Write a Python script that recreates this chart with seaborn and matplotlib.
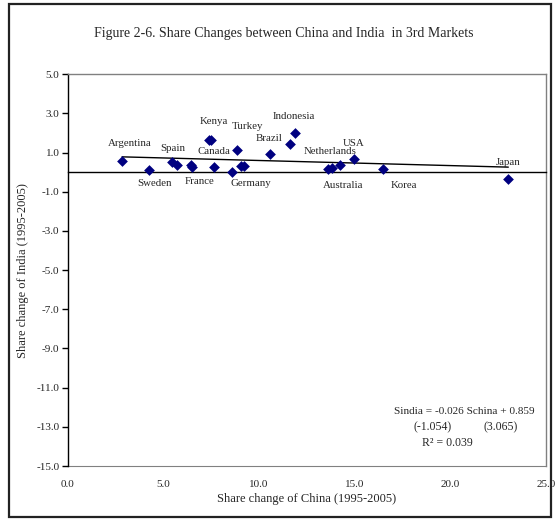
import matplotlib
matplotlib.use("Agg")
import matplotlib.pyplot as plt
from matplotlib.patches import Rectangle
import numpy as np
import pandas as pd
import seaborn as sns

# Share change 1995-2005 in third markets (percentage points)
china_change = [2.84, 4.25, 5.47, 5.72, 6.47, 6.52, 7.39, 7.51, 7.67, 8.59, 8.84,
                9.05, 9.22, 10.55, 11.60, 11.89, 13.62, 13.79, 14.24, 14.98, 16.47, 23.03]
india_change = [0.55, 0.09, 0.52, 0.38, 0.38, 0.26, 1.67, 1.67, 0.26, 0.00, 1.16,
                0.31, 0.31, 0.94, 1.45, 2.02, 0.16, 0.21, 0.38, 0.65, 0.19, -0.37]
market_labels = ["Argentina", "Sweden", "Spain", "", "France", "", "", "Kenya", "Canada", "",
                 "Turkey", "Germany", "", "Brazil", "", "Indonesia", "", "Australia",
                 "Netherlands", "USA", "Korea", "Japan"]
# label offsets from their markers, in pixels (dx, dy)
label_dx = [8, 5, 0, 0, 8, 0, 0, 2, -1, 0, 11, 10, 0, 0, 0, -1, 0, 12, -10, -1, 21, 0]
label_dy = [18, -13, 14, 0, -17, 0, 0, 18, 16, 0, 23, -17, 0, 15, 0, 16, 0, -17, 13, 16, -17, 17]

# fitted trend: Sindia = -0.026 Schina + 0.859
slope, intercept = -0.026, 0.859
t_slope, t_intercept, r_squared = -1.054, 3.065, 0.039

x_ticks = [0.0, 5.0, 10.0, 15.0, 20.0, 25.0]
y_ticks = [5.0, 3.0, 1.0, -1.0, -3.0, -5.0, -7.0, -9.0, -11.0, -13.0, -15.0]

title = "Figure 2-6. Share Changes between China and India  in 3rd Markets"
x_label = "Share change of China (1995-2005)"
y_label = "Share change of India (1995-2005)"

df = pd.DataFrame({"china": china_change, "india": india_change, "label": market_labels,
                   "dx": label_dx, "dy": label_dy})

sns.set_style("white")
plt.rcParams["font.family"] = ["Liberation Serif", "DejaVu Serif"]

W, H = 556, 519
fig = plt.figure(figsize=(W / 100, H / 100), dpi=100)
fig.patch.set_facecolor("white")

# outer chart frame
fig.add_artist(Rectangle((9 / W, 2 / H), 542 / W, 513 / H, transform=fig.transFigure,
                         fill=False, edgecolor="#222222", linewidth=1.6))

ax = fig.add_axes([67.7 / W, 1 - 466 / H, (546 - 67.7) / W, (466 - 74.3) / H])
ax.set_xlim(0, 25)
ax.set_ylim(-15, 5)

sns.scatterplot(data=df, x="china", y="india", ax=ax, marker="D", s=30,
                color="#000080", edgecolor="#000080", linewidth=0, zorder=3)

xs = np.array([df["china"].min(), df["china"].max()])
sns.lineplot(x=xs, y=slope * xs + intercept, ax=ax, color="black", linewidth=1, zorder=2)

for _, r in df.iterrows():
    if r["label"]:
        ax.annotate(r["label"], (r["china"], r["india"]), xytext=(r["dx"], r["dy"]),
                    textcoords="offset pixels", ha="center", va="center", fontsize=7.8)

# horizontal axis crosses at zero; labels sit along the bottom of the plot area
ax.spines["bottom"].set_position(("data", 0))
ax.spines["bottom"].set_color("black")
ax.spines["bottom"].set_linewidth(1)
ax.set_xticks(x_ticks)
ax.tick_params(axis="x", direction="out", length=3, width=1, color="black", labelbottom=False)
sec = ax.secondary_xaxis("bottom")
sec.set_xticks(x_ticks)
sec.set_xticklabels([f"{v:.1f}" for v in x_ticks], fontsize=8)
sec.tick_params(axis="x", length=0, pad=10)
sec.spines["bottom"].set_color("#808080")
sec.set_xlabel(x_label, fontsize=9, labelpad=3)

ax.set_yticks(y_ticks)
ax.set_yticklabels([f"{v:.1f}" for v in y_ticks], fontsize=8)
ax.tick_params(axis="y", direction="out", length=4, width=1, color="black", pad=2, left=True)
ax.spines["left"].set_color("black")
ax.spines["left"].set_linewidth(1)
for side in ("top", "right"):
    ax.spines[side].set_color("#808080")
    ax.spines[side].set_linewidth(1)
ax.set_xlabel("")
ax.set_ylabel(y_label, fontsize=9, labelpad=5)

fig.text(284 / W, 1 - 33 / H, title, ha="center", va="center", fontsize=10)

fig.text(394 / W, 1 - 411 / H, f"Sindia = {slope:.3f} Schina + {intercept:.3f}",
         ha="left", va="center", fontsize=8.1)
fig.text(413 / W, 1 - 427 / H, f"({t_slope:.3f})", ha="left", va="center", fontsize=8.5)
fig.text(483 / W, 1 - 427 / H, f"({t_intercept:.3f})", ha="left", va="center", fontsize=8.5)
fig.text(422 / W, 1 - 443 / H, f"R\u00b2 = {r_squared:.3f}", ha="left", va="center", fontsize=8.5)

fig.savefig("out.png", dpi=100, facecolor="white")
